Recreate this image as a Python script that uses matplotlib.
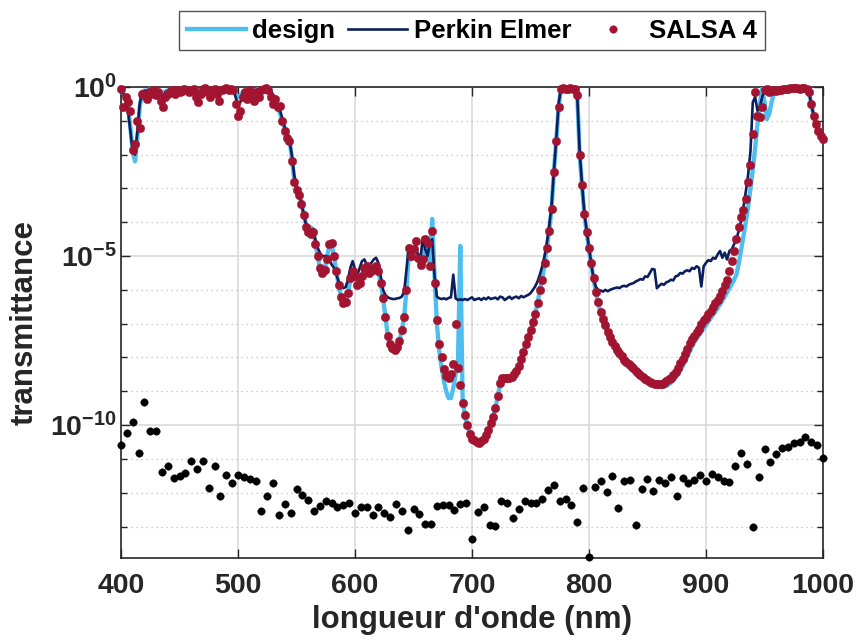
import matplotlib
matplotlib.use('Agg')
import matplotlib.pyplot as plt
from matplotlib.ticker import NullLocator
import numpy as np

# wavelength grids (nm)
wavelength = np.arange(400, 1001, 2)
noise_wavelength = np.arange(400, 1001, 5)

# log10 of the transmittance
design_log = [
    -0.1, -0.2, -0.3, -0.6, -1.2, -1.9, -2.2, -1.5, -0.6, -0.15,          # 400
    -0.1, -0.12, -0.08, -0.1, -0.06, -0.1, -0.12, -0.15, -0.2, -0.12,     # 420
    -0.1, -0.08, -0.06, -0.1, -0.08, -0.06, -0.05, -0.06, -0.08, -0.1,    # 440
    -0.07, -0.05, -0.1, -0.15, -0.1, -0.05, -0.04, -0.06, -0.08, -0.06,   # 460
    -0.05, -0.06, -0.08, -0.05, -0.04, -0.03, -0.05, -0.06, -0.1, -0.2,   # 480
    -0.3, -0.25, -0.15, -0.1, -0.12, -0.08, -0.1, -0.12, -0.08, -0.06,    # 500
    -0.04, -0.03, -0.02, -0.05, -0.15, -0.3, -0.45, -0.6, -0.8, -1.0,     # 520
    -1.25, -1.4, -1.55, -2.1, -2.7, -3.0, -3.15, -3.4, -3.75, -4.05,      # 540
    -4.15, -4.15, -4.2, -4.6, -5.0, -5.35, -5.5, -5.4, -5.05, -4.7,       # 560
    -4.65, -5.0, -5.45, -5.85, -6.2, -6.38, -6.35, -6.1, -5.7, -5.45,     # 580
    -5.6, -5.85, -5.8, -5.6, -5.4, -5.35, -5.5, -5.45, -5.35, -5.3,       # 600
    -5.45, -5.8, -6.25, -6.8, -7.35, -7.6, -7.72, -7.78, -7.7, -7.5,      # 620
    -7.2, -6.8, -6.0, -4.9, -5.1, -4.9, -4.7, -5.1, -5.3, -5.0,           # 640
    -4.6, -4.9, -5.2, -3.9, -5.6, -7.0, -7.8, -8.3, -8.7, -9.0,           # 660
    -9.2, -9.2, -8.9, -8.5, -8.1, -4.7, -9.3, -9.7, -10.0, -10.25,        # 680
    -10.4, -10.45, -10.5, -10.52, -10.48, -10.4, -10.3, -10.15, -9.95, -9.75,  # 700
    -9.5, -9.15, -8.8, -8.65, -8.62, -8.62, -8.62, -8.58, -8.5, -8.4,     # 720
    -8.25, -8.05, -7.85, -7.6, -7.4, -7.2, -6.95, -6.7, -6.4, -6.0,       # 740
    -5.7, -5.2, -4.75, -4.25, -3.6, -2.5, -1.6, -0.6, -0.05, -0.03,       # 760
    -0.04, -0.04, -0.03, -0.04, -0.05, -0.25, -2.0, -2.9, -3.75, -4.3,    # 780
    -4.8, -5.25, -5.7, -6.1, -6.4, -6.7, -6.9, -7.1, -7.3, -7.45,         # 800
    -7.6, -7.7, -7.83, -7.92, -8.02, -8.11, -8.19, -8.26, -8.32, -8.38,   # 820
    -8.45, -8.51, -8.57, -8.63, -8.69, -8.73, -8.77, -8.8, -8.83, -8.85,  # 840
    -8.87, -8.88, -8.87, -8.84, -8.8, -8.75, -8.68, -8.6, -8.5, -8.38,    # 860
    -8.26, -8.12, -7.98, -7.83, -7.68, -7.55, -7.44, -7.34, -7.24, -7.14, # 880
    -7.04, -6.94, -6.84, -6.74, -6.64, -6.54, -6.43, -6.32, -6.2, -6.07,  # 900
    -5.95, -5.83, -5.7, -5.55, -5.22, -4.82, -4.42, -4.0, -3.55, -3.0,    # 920
    -2.45, -1.8, -1.1, -0.5, -0.05, -0.45, -0.95, -0.8, -0.45, -0.2,      # 940
    -0.1, -0.08, -0.06, -0.05, -0.06, -0.05, -0.04, -0.04, -0.03, -0.05,  # 960
    -0.06, -0.05, -0.04, -0.06, -0.15, -0.5, -0.85, -1.1, -1.3, -1.45,    # 980
    -1.55,                                                                # 1000
]

perkin_log = [
    -0.05, -0.2, -0.35, -0.7, -1.3, -1.9, -2.0, -1.3, -0.5, -0.15,        # 400
    -0.12, -0.1, -0.15, -0.12, -0.08, -0.15, -0.2, -0.25, -0.3, -0.15,    # 420
    -0.12, -0.1, -0.08, -0.12, -0.1, -0.08, -0.07, -0.06, -0.08, -0.12,   # 440
    -0.08, -0.06, -0.15, -0.25, -0.12, -0.06, -0.05, -0.08, -0.15, -0.08, # 460
    -0.06, -0.1, -0.15, -0.08, -0.05, -0.04, -0.06, -0.05, -0.1, -0.3,    # 480
    -0.55, -0.45, -0.2, -0.12, -0.18, -0.1, -0.12, -0.18, -0.1, -0.08,    # 500
    -0.05, -0.03, -0.02, -0.04, -0.1, -0.25, -0.4, -0.55, -0.7, -0.95,    # 520
    -1.2, -1.45, -1.6, -2.0, -2.6, -2.95, -3.1, -3.4, -3.75, -4.05,       # 540
    -4.2, -4.25, -4.2, -4.5, -4.75, -4.9, -5.0, -5.0, -5.0, -5.1,         # 560
    -5.25, -5.35, -5.55, -5.75, -5.9, -5.95, -5.92, -5.7, -5.35, -5.15,   # 580
    -5.4, -5.55, -5.35, -5.15, -5.1, -5.25, -5.3, -5.2, -5.1, -5.05,      # 600
    -5.2, -5.6, -6.0, -6.15, -6.22, -6.25, -6.27, -6.27, -6.25, -6.24,    # 620
    -6.2, -6.05, -5.4, -4.7, -4.95, -4.9, -4.85, -4.95, -5.05, -4.45,     # 640
    -4.8, -5.0, -4.6, -4.5, -5.6, -6.2, -6.25, -6.27, -6.25, -6.28,       # 660
    -6.24, -6.22, -5.55, -6.25, -6.3, -6.28, -6.3, -6.27, -6.3, -6.26,    # 680
    -6.22, -6.3, -6.27, -6.25, -6.3, -6.24, -6.28, -6.22, -6.27, -6.25,   # 700
    -6.23, -6.28, -6.2, -6.22, -6.3, -6.25, -6.2, -6.27, -6.22, -6.2,     # 720
    -6.25, -6.18, -6.22, -6.18, -6.15, -6.1, -6.0, -5.9, -5.75, -5.55,    # 740
    -5.3, -5.0, -4.6, -4.1, -3.5, -2.5, -1.55, -0.5, -0.05, -0.03,        # 760
    -0.04, -0.04, -0.03, -0.04, -0.08, -0.3, -1.9, -2.85, -3.7, -4.25,    # 780
    -4.75, -5.25, -5.7, -5.92, -6.0, -6.02, -6.05, -6.0, -6.04, -6.0,     # 800
    -5.97, -5.95, -5.93, -5.95, -5.9, -5.88, -5.9, -5.85, -5.82, -5.8,    # 820
    -5.75, -5.72, -5.68, -5.7, -5.6, -5.62, -5.5, -5.38, -5.4, -5.95,     # 840
    -5.88, -5.82, -5.85, -5.78, -5.75, -5.7, -5.72, -5.6, -5.58, -5.5,    # 860
    -5.52, -5.45, -5.42, -5.45, -5.35, -5.38, -5.3, -5.35, -5.9, -5.3,    # 880
    -5.2, -5.12, -5.15, -5.05, -5.08, -4.95, -4.85, -5.05, -4.9, -5.1,    # 900
    -4.85, -4.8, -4.65, -4.5, -4.25, -3.95, -3.55, -3.1, -2.6, -1.9,      # 920
    -0.45, -0.3, -0.7, -0.6, -0.3, -0.1, -0.06, -0.1, -0.08, -0.07,       # 940
    -0.08, -0.07, -0.06, -0.05, -0.06, -0.05, -0.04, -0.04, -0.03, -0.05, # 960
    -0.06, -0.05, -0.04, -0.06, -0.15, -0.5, -0.85, -1.1, -1.3, -1.45,    # 980
    -1.55,                                                                # 1000
]

salsa_log = [
    -0.05, -0.6, -0.3, -0.45, -0.7, -1.85, -1.7, -1.0, -1.2, -0.2,        # 400
    -0.25, -0.35, -0.15, -0.2, -0.1, -0.25, -0.15, -0.4, -0.6, -0.3,      # 420
    -0.2, -0.15, -0.1, -0.2, -0.1, -0.15, -0.12, -0.05, -0.1, -0.15,      # 440
    -0.1, -0.05, -0.3, -0.45, -0.2, -0.05, -0.02, -0.15, -0.3, -0.1,      # 460
    -0.05, -0.2, -0.4, -0.1, -0.05, -0.02, -0.1, -0.05, -0.1, -0.5,       # 480
    -0.85, -0.7, -0.3, -0.15, -0.35, -0.1, -0.25, -0.4, -0.15, -0.3,      # 500
    -0.1, -0.05, -0.02, -0.1, -0.3, -0.5, -0.35, -0.6, -0.55, -1.0,       # 520
    -1.3, -1.5, -1.6, -2.2, -2.8, -3.05, -3.2, -3.45, -3.8, -4.15,        # 540
    -4.3, -4.35, -4.3, -4.65, -5.0, -5.35, -5.5, -5.4, -5.1, -4.65,       # 560
    -4.6, -5.0, -5.45, -5.85, -6.2, -6.38, -6.35, -6.1, -5.65, -5.45,     # 580
    -5.6, -5.85, -5.8, -5.6, -5.35, -5.3, -5.5, -5.45, -5.35, -5.3,       # 600
    -5.45, -5.8, -6.25, -6.8, -7.35, -7.6, -7.72, -7.78, -7.7, -7.5,      # 620
    -7.2, -6.8, -6.0, -4.75, -5.0, -4.8, -4.55, -5.05, -5.25, -5.1,       # 640
    -4.5, -4.6, -5.3, -4.25, -5.8, -6.9, -7.6, -8.0, -8.35, -8.55,        # 660
    -8.6, -8.5, -8.2, -7.0, -8.3, -8.8, -9.35, -9.7, -10.0, -10.25,       # 680
    -10.4, -10.45, -10.5, -10.52, -10.48, -10.4, -10.3, -10.15, -9.95, -9.75,  # 700
    -9.5, -9.15, -8.75, -8.62, -8.6, -8.6, -8.6, -8.57, -8.5, -8.4,       # 720
    -8.25, -8.05, -7.85, -7.6, -7.4, -7.2, -6.95, -6.7, -6.4, -6.0,       # 740
    -5.7, -5.2, -4.75, -4.25, -3.6, -2.5, -1.6, -0.6, -0.05, -0.03,       # 760
    -0.05, -0.05, -0.03, -0.05, -0.05, -0.25, -2.0, -2.9, -3.75, -4.3,    # 780
    -4.75, -5.2, -5.65, -6.05, -6.35, -6.65, -6.85, -7.05, -7.25, -7.4,   # 800
    -7.55, -7.65, -7.78, -7.87, -7.97, -8.06, -8.14, -8.2, -8.26, -8.32,  # 820
    -8.4, -8.46, -8.52, -8.58, -8.64, -8.68, -8.72, -8.75, -8.77, -8.78,  # 840
    -8.78, -8.77, -8.74, -8.7, -8.65, -8.6, -8.52, -8.42, -8.3, -8.17,    # 860
    -8.05, -7.9, -7.75, -7.58, -7.45, -7.35, -7.25, -7.15, -7.02, -6.9,   # 880
    -6.82, -6.72, -6.62, -6.5, -6.4, -6.3, -6.18, -6.02, -5.87, -5.7,     # 900
    -5.45, -5.15, -4.85, -4.5, -4.15, -3.85, -3.65, -3.3, -2.8, -2.3,     # 920
    -1.4, -0.15, -0.85, -0.9, -0.6, -0.1, -0.05, -0.15, -0.12, -0.1,      # 940
    -0.12, -0.1, -0.08, -0.07, -0.05, -0.06, -0.04, -0.03, -0.02, -0.04,  # 960
    -0.06, -0.04, -0.03, -0.05, -0.15, -0.5, -0.85, -1.1, -1.3, -1.45,    # 980
    -1.55,                                                                # 1000
]

noise_log = [
    -10.59, -10.23, -9.90, -10.82, -9.31, -10.18, -10.18, -11.38, -11.20, -11.55,  # 400
    -11.51, -11.43, -11.07, -11.31, -11.05, -11.86, -11.20, -12.09, -11.49, -11.71,  # 450
    -11.47, -11.53, -11.60, -11.66, -12.55, -12.11, -11.72, -12.66, -12.33, -12.59,  # 500
    -11.89, -12.06, -12.21, -12.55, -12.39, -12.24, -12.29, -12.43, -12.35, -12.30,  # 550
    -12.59, -12.41, -12.43, -12.65, -12.41, -12.60, -12.73, -12.32, -12.54, -13.09,  # 600
    -12.47, -12.64, -12.92, -12.92, -12.40, -12.37, -12.35, -12.51, -12.33, -12.31,  # 650
    -13.37, -12.58, -12.41, -12.96, -12.99, -12.23, -12.31, -12.76, -12.47, -12.23,  # 700
    -12.31, -12.31, -12.18, -11.92, -11.76, -12.24, -12.18, -12.37, -12.88, -11.86,  # 750
    -13.91, -11.82, -11.64, -11.97, -11.51, -12.44, -11.66, -11.62, -12.95, -11.90,  # 800
    -11.59, -11.94, -11.62, -11.72, -11.53, -12.09, -11.56, -11.72, -11.63, -11.49,  # 850
    -11.64, -11.44, -11.54, -11.65, -11.68, -11.20, -10.82, -11.14, -13.00, -11.53,  # 900
    -10.72, -11.08, -10.84, -10.69, -10.66, -10.54, -10.50, -10.36, -10.49, -10.59,  # 950
    -10.97,                                                                          # 1000
]

x_ticks = [400, 500, 600, 700, 800, 900, 1000]
y_ticks = [1e-10, 1e-5, 1e0]
y_tick_labels = [r'$10^{-10}$', r'$10^{-5}$', r'$10^{0}$']

plt.rcParams['font.family'] = ['Liberation Sans', 'DejaVu Sans']
plt.rcParams['font.weight'] = 'bold'
plt.rcParams['mathtext.fontset'] = 'custom'
plt.rcParams['mathtext.rm'] = 'Liberation Sans:bold'
plt.rcParams['mathtext.it'] = 'Liberation Sans:bold'
plt.rcParams['mathtext.bf'] = 'Liberation Sans:bold'
plt.rcParams['mathtext.default'] = 'rm'

axis_color = '#262626'

fig = plt.figure(figsize=(8.56, 6.43), dpi=100)
ax = fig.add_axes([121 / 856, 1 - 558 / 643, 702 / 856, 471 / 643])

ax.semilogy(wavelength, 10 ** np.array(design_log), color='#4DBEEE', lw=3.1,
            label='design', zorder=3)
ax.semilogy(wavelength, 10 ** np.array(perkin_log), color='#0B1F5E', lw=1.9,
            label='Perkin Elmer', zorder=4)
ax.semilogy(wavelength, 10 ** np.array(salsa_log), 'o', color='#A2142F',
            ms=6.1, mew=0.3, label='SALSA 4', clip_on=False, zorder=5)
ax.semilogy(noise_wavelength, 10 ** np.array(noise_log), 'o', color='black',
            ms=5.4, mew=0.3, clip_on=False, zorder=6)

ax.set_xlim(400, 1000)
ax.set_ylim(10 ** -13.93, 1)
ax.set_xticks(x_ticks)
ax.set_xticklabels([str(t) for t in x_ticks])
ax.xaxis.set_minor_locator(NullLocator())
ax.set_yticks(y_ticks)
ax.set_yticklabels(y_tick_labels)
ax.set_yticks(10.0 ** np.arange(-13, 1), minor=True)
ax.set_yticklabels([], minor=True)

ax.grid(True, which='major', color='#DADADA', lw=1.2, ls='-')
ax.grid(True, which='minor', axis='y', color='#BDBDBD', lw=0.9, ls=(0, (1, 3)))
ax.set_axisbelow(True)

ax.tick_params(which='both', direction='in', top=True, right=True,
               colors=axis_color, width=1.0)
ax.tick_params(which='major', length=6.5, labelsize=20.5)
ax.tick_params(which='minor', length=4)
ax.tick_params(axis='x', pad=11)
ax.tick_params(axis='y', pad=3)
for s in ax.spines.values():
    s.set_color(axis_color)
    s.set_linewidth(1.2)

ax.set_xlabel("longueur d'onde (nm)", fontsize=22.5, fontweight='bold',
              color=axis_color, labelpad=4)
ax.set_ylabel('transmittance', fontsize=22.5, fontweight='bold', color=axis_color)
ax.yaxis.set_label_coords(-0.116, 0.5)

leg = ax.legend(loc='lower center', bbox_to_anchor=(0.5, 1.078), ncol=3,
                fontsize=18.5, frameon=True, fancybox=False, borderaxespad=0,
                handlelength=2.3, handletextpad=0.25, columnspacing=0.5,
                borderpad=0.3, numpoints=1, markerscale=0.9)
leg.get_frame().set_edgecolor(axis_color)
leg.get_frame().set_linewidth(1.0)

fig.savefig('out.png', dpi=100)
